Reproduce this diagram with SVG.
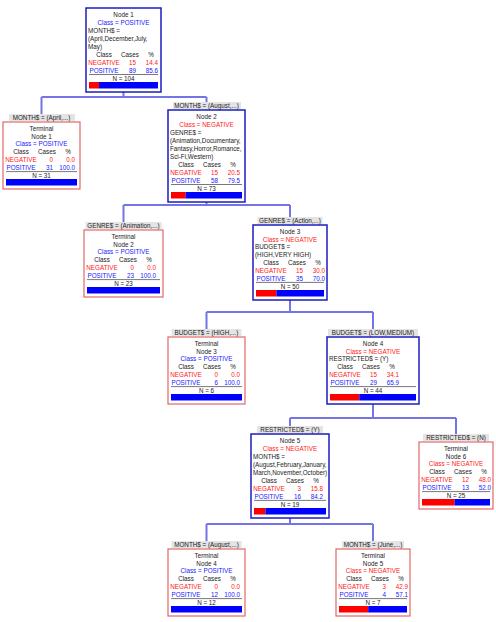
<svg xmlns="http://www.w3.org/2000/svg" width="496" height="622" viewBox="0 0 496 622">
<style>
text{font-family:"Liberation Sans",Arial,sans-serif;font-size:6.3px;fill:#222}
.m{text-anchor:middle}.e{text-anchor:end}
.rd{fill:#ff2020}.bl{fill:#2020ff}
.ib{fill:#fff;stroke:#1c1cc0;stroke-width:1.5}
.tb{fill:#fff;stroke:#e06868;stroke-width:1.2}
.lbl{fill:#e4e4e4}
.sep{stroke:#555;stroke-width:0.8}
.br{fill:#ff0000}.bb{fill:#0000ff}
.conn{fill:none;stroke:#7474e6;stroke-width:2}
</style>
<rect width="496" height="622" fill="#fff"/>
<g id="connectors" class="conn">
<path d="M123.5 92V97M41.5 97H206.5M41.5 97V114M206.5 97V102"/>
<path d="M206.5 202V205M123.5 205H290M123.5 205V222M290 205V217"/>
<path d="M290 300V312M206.5 312H373M206.5 312V329M373 312V329"/>
<path d="M373 404V418M290 418H456M290 418V426M456 418V434"/>
<path d="M290 518V524M206.5 524H373M206.5 524V541M373 524V541"/>
</g>
<g id="node1">
<rect class="ib" x="86" y="8" width="75" height="84"/>
<text class="m" x="123.5" y="16.7">Node 1</text>
<text class="m bl" x="123.5" y="24.7">Class = POSITIVE</text>
<text x="88" y="32.7">MONTH$ =</text>
<text x="88" y="40.7">(April,December,July,</text>
<text x="88" y="48.7">May)</text>
<text class="m" x="104" y="56.7">Class</text><text class="m" x="130" y="56.7">Cases</text><text class="m" x="151" y="56.7">%</text>
<text class="m rd" x="104" y="64.7">NEGATIVE</text><text class="e rd" x="136" y="64.7">15</text><text class="e rd" x="158" y="64.7">14.4</text>
<text class="m bl" x="104" y="72.7">POSITIVE</text><text class="e bl" x="136" y="72.7">89</text><text class="e bl" x="158" y="72.7">85.6</text>
<line class="sep" x1="89" y1="74.5" x2="158" y2="74.5"/>
<text class="m" x="123.5" y="80.7">N = 104</text>
<rect class="br" x="89" y="82" width="10" height="6.5"/><rect class="bb" x="99" y="82" width="59" height="6.5"/>
</g>
<g id="terminal1">
<rect class="lbl" x="9" y="114" width="66" height="7"/>
<text class="m" x="41.5" y="119.5">MONTH$ = (April,...)</text>
<rect class="tb" x="3" y="122" width="77" height="67"/>
<text class="m" x="41.5" y="130.7">Terminal</text>
<text class="m" x="41.5" y="138.5">Node 1</text>
<text class="m bl" x="41.5" y="146.4">Class = POSITIVE</text>
<text class="m" x="21" y="154.2">Class</text><text class="m" x="47" y="154.2">Cases</text><text class="m" x="68" y="154.2">%</text>
<text class="m rd" x="21" y="162">NEGATIVE</text><text class="e rd" x="53" y="162">0</text><text class="e rd" x="75" y="162">0.0</text>
<text class="m bl" x="21" y="169.9">POSITIVE</text><text class="e bl" x="53" y="169.9">31</text><text class="e bl" x="75" y="169.9">100.0</text>
<line class="sep" x1="6" y1="171.6" x2="77" y2="171.6"/>
<text class="m" x="41.5" y="177.7">N = 31</text>
<rect class="bb" x="6" y="179" width="71" height="6.5"/>
</g>
<g id="node2">
<rect class="lbl" x="173" y="102" width="68" height="7"/>
<text class="m" x="206.5" y="107.5">MONTH$ = (August,...)</text>
<rect class="ib" x="168" y="110" width="77" height="92"/>
<text class="m" x="206.5" y="118.7">Node 2</text>
<text class="m rd" x="206.5" y="126.7">Class = NEGATIVE</text>
<text x="170" y="134.7">GENRE$ =</text>
<text x="170" y="142.7">(Animation,Documentary,</text>
<text x="170" y="150.7">Fantasy,Horror,Romance,</text>
<text x="170" y="158.7">Sci-Fi,Western)</text>
<text class="m" x="186" y="166.7">Class</text><text class="m" x="212" y="166.7">Cases</text><text class="m" x="233" y="166.7">%</text>
<text class="m rd" x="186" y="174.7">NEGATIVE</text><text class="e rd" x="218" y="174.7">15</text><text class="e rd" x="240" y="174.7">20.5</text>
<text class="m bl" x="186" y="182.7">POSITIVE</text><text class="e bl" x="218" y="182.7">58</text><text class="e bl" x="240" y="182.7">79.5</text>
<line class="sep" x1="171" y1="184.5" x2="242" y2="184.5"/>
<text class="m" x="206.5" y="190.7">N = 73</text>
<rect class="br" x="171" y="192" width="14.6" height="6.5"/><rect class="bb" x="185.6" y="192" width="56.4" height="6.5"/>
</g>
<g id="terminal2">
<rect class="lbl" x="85.5" y="222" width="76" height="7"/>
<text class="m" x="123.5" y="227.5">GENRE$ = (Animation,...)</text>
<rect class="tb" x="84" y="230" width="79" height="67"/>
<text class="m" x="123.5" y="238.7">Terminal</text>
<text class="m" x="123.5" y="246.5">Node 2</text>
<text class="m bl" x="123.5" y="254.4">Class = POSITIVE</text>
<text class="m" x="102" y="262.2">Class</text><text class="m" x="128" y="262.2">Cases</text><text class="m" x="149" y="262.2">%</text>
<text class="m rd" x="102" y="270">NEGATIVE</text><text class="e rd" x="134" y="270">0</text><text class="e rd" x="156" y="270">0.0</text>
<text class="m bl" x="102" y="277.9">POSITIVE</text><text class="e bl" x="134" y="277.9">23</text><text class="e bl" x="156" y="277.9">100.0</text>
<line class="sep" x1="87" y1="279.6" x2="160" y2="279.6"/>
<text class="m" x="123.5" y="285.7">N = 23</text>
<rect class="bb" x="87" y="287" width="73" height="6.5"/>
</g>
<g id="node3">
<rect class="lbl" x="257.5" y="217" width="65" height="7"/>
<text class="m" x="290" y="222.5">GENRE$ = (Action,...)</text>
<rect class="ib" x="253" y="225" width="74" height="75"/>
<text class="m" x="290" y="233.7">Node 3</text>
<text class="m rd" x="290" y="241.6">Class = NEGATIVE</text>
<text x="255" y="249.4">BUDGET$ =</text>
<text x="255" y="257.3">(HIGH,VERY HIGH)</text>
<text class="m" x="271" y="265.1">Class</text><text class="m" x="297" y="265.1">Cases</text><text class="m" x="318" y="265.1">%</text>
<text class="m rd" x="271" y="273">NEGATIVE</text><text class="e rd" x="303" y="273">15</text><text class="e rd" x="325" y="273">30.0</text>
<text class="m bl" x="271" y="280.8">POSITIVE</text><text class="e bl" x="303" y="280.8">35</text><text class="e bl" x="325" y="280.8">70.0</text>
<line class="sep" x1="256" y1="282.4" x2="324" y2="282.4"/>
<text class="m" x="290" y="288.7">N = 50</text>
<rect class="br" x="256" y="290" width="20.4" height="6.5"/><rect class="bb" x="276.4" y="290" width="47.6" height="6.5"/>
</g>
<g id="terminal3">
<rect class="lbl" x="171.5" y="329" width="70" height="7"/>
<text class="m" x="206.5" y="334.5">BUDGET$ = (HIGH,...)</text>
<rect class="tb" x="168" y="337" width="77" height="67"/>
<text class="m" x="206.5" y="345.7">Terminal</text>
<text class="m" x="206.5" y="353.5">Node 3</text>
<text class="m bl" x="206.5" y="361.4">Class = POSITIVE</text>
<text class="m" x="186" y="369.2">Class</text><text class="m" x="212" y="369.2">Cases</text><text class="m" x="233" y="369.2">%</text>
<text class="m rd" x="186" y="377">NEGATIVE</text><text class="e rd" x="218" y="377">0</text><text class="e rd" x="240" y="377">0.0</text>
<text class="m bl" x="186" y="384.9">POSITIVE</text><text class="e bl" x="218" y="384.9">6</text><text class="e bl" x="240" y="384.9">100.0</text>
<line class="sep" x1="171" y1="386.6" x2="242" y2="386.6"/>
<text class="m" x="206.5" y="392.7">N = 6</text>
<rect class="bb" x="171" y="394" width="71" height="6.5"/>
</g>
<g id="node4">
<rect class="lbl" x="328" y="329" width="90" height="7"/>
<text class="m" x="373" y="334.5">BUDGET$ = (LOW,MEDIUM)</text>
<rect class="ib" x="327" y="337" width="92" height="67"/>
<text class="m" x="373" y="345.7">Node 4</text>
<text class="m rd" x="373" y="353.5">Class = NEGATIVE</text>
<text x="329" y="361.4">RESTRICTED$ = (Y)</text>
<text class="m" x="345" y="369.2">Class</text><text class="m" x="371" y="369.2">Cases</text><text class="m" x="392" y="369.2">%</text>
<text class="m rd" x="345" y="377">NEGATIVE</text><text class="e rd" x="377" y="377">15</text><text class="e rd" x="399" y="377">34.1</text>
<text class="m bl" x="345" y="384.9">POSITIVE</text><text class="e bl" x="377" y="384.9">29</text><text class="e bl" x="399" y="384.9">65.9</text>
<line class="sep" x1="330" y1="386.6" x2="416" y2="386.6"/>
<text class="m" x="373" y="392.7">N = 44</text>
<rect class="br" x="330" y="394" width="29.3" height="6.5"/><rect class="bb" x="359.3" y="394" width="56.7" height="6.5"/>
</g>
<g id="node5">
<rect class="lbl" x="257" y="426" width="66" height="7"/>
<text class="m" x="290" y="431.5">RESTRICTED$ = (Y)</text>
<rect class="ib" x="251" y="434" width="78" height="84"/>
<text class="m" x="290" y="442.7">Node 5</text>
<text class="m rd" x="290" y="450.7">Class = NEGATIVE</text>
<text x="253" y="458.7">MONTH$ =</text>
<text x="253" y="466.7">(August,February,January,</text>
<text x="253" y="474.7">March,November,October)</text>
<text class="m" x="269" y="482.7">Class</text><text class="m" x="295" y="482.7">Cases</text><text class="m" x="316" y="482.7">%</text>
<text class="m rd" x="269" y="490.7">NEGATIVE</text><text class="e rd" x="301" y="490.7">3</text><text class="e rd" x="323" y="490.7">15.8</text>
<text class="m bl" x="269" y="498.7">POSITIVE</text><text class="e bl" x="301" y="498.7">16</text><text class="e bl" x="323" y="498.7">84.2</text>
<line class="sep" x1="254" y1="500.4" x2="326" y2="500.4"/>
<text class="m" x="290" y="506.7">N = 19</text>
<rect class="br" x="254" y="508" width="11.4" height="6.5"/><rect class="bb" x="265.4" y="508" width="60.6" height="6.5"/>
</g>
<g id="terminal6">
<rect class="lbl" x="423" y="434" width="66" height="7"/>
<text class="m" x="456" y="439.5">RESTRICTED$ = (N)</text>
<rect class="tb" x="419" y="442" width="74" height="67"/>
<text class="m" x="456" y="450.7">Terminal</text>
<text class="m" x="456" y="458.5">Node 6</text>
<text class="m rd" x="456" y="466.4">Class = NEGATIVE</text>
<text class="m" x="437" y="474.2">Class</text><text class="m" x="463" y="474.2">Cases</text><text class="m" x="484" y="474.2">%</text>
<text class="m rd" x="437" y="482">NEGATIVE</text><text class="e rd" x="469" y="482">12</text><text class="e rd" x="491" y="482">48.0</text>
<text class="m bl" x="437" y="489.9">POSITIVE</text><text class="e bl" x="469" y="489.9">13</text><text class="e bl" x="491" y="489.9">52.0</text>
<line class="sep" x1="422" y1="491.6" x2="490" y2="491.6"/>
<text class="m" x="456" y="497.7">N = 25</text>
<rect class="br" x="422" y="499" width="32.6" height="6.5"/><rect class="bb" x="454.6" y="499" width="35.4" height="6.5"/>
</g>
<g id="terminal4">
<rect class="lbl" x="171.5" y="541" width="70" height="7"/>
<text class="m" x="206.5" y="546.5">MONTH$ = (August,...)</text>
<rect class="tb" x="168" y="549" width="77" height="67"/>
<text class="m" x="206.5" y="557.7">Terminal</text>
<text class="m" x="206.5" y="565.5">Node 4</text>
<text class="m bl" x="206.5" y="573.4">Class = POSITIVE</text>
<text class="m" x="186" y="581.2">Class</text><text class="m" x="212" y="581.2">Cases</text><text class="m" x="233" y="581.2">%</text>
<text class="m rd" x="186" y="589">NEGATIVE</text><text class="e rd" x="218" y="589">0</text><text class="e rd" x="240" y="589">0.0</text>
<text class="m bl" x="186" y="596.9">POSITIVE</text><text class="e bl" x="218" y="596.9">12</text><text class="e bl" x="240" y="596.9">100.0</text>
<line class="sep" x1="171" y1="598.6" x2="242" y2="598.6"/>
<text class="m" x="206.5" y="604.7">N = 12</text>
<rect class="bb" x="171" y="606" width="71" height="6.5"/>
</g>
<g id="terminal5">
<rect class="lbl" x="342" y="541" width="62" height="7"/>
<text class="m" x="373" y="546.5">MONTH$ = (June,...)</text>
<rect class="tb" x="336" y="549" width="74" height="67"/>
<text class="m" x="373" y="557.7">Terminal</text>
<text class="m" x="373" y="565.5">Node 5</text>
<text class="m rd" x="373" y="573.4">Class = NEGATIVE</text>
<text class="m" x="354" y="581.2">Class</text><text class="m" x="380" y="581.2">Cases</text><text class="m" x="401" y="581.2">%</text>
<text class="m rd" x="354" y="589">NEGATIVE</text><text class="e rd" x="386" y="589">3</text><text class="e rd" x="408" y="589">42.9</text>
<text class="m bl" x="354" y="596.9">POSITIVE</text><text class="e bl" x="386" y="596.9">4</text><text class="e bl" x="408" y="596.9">57.1</text>
<line class="sep" x1="339" y1="598.6" x2="407" y2="598.6"/>
<text class="m" x="373" y="604.7">N = 7</text>
<rect class="br" x="339" y="606" width="29.2" height="6.5"/><rect class="bb" x="368.2" y="606" width="38.8" height="6.5"/>
</g>
</svg>
